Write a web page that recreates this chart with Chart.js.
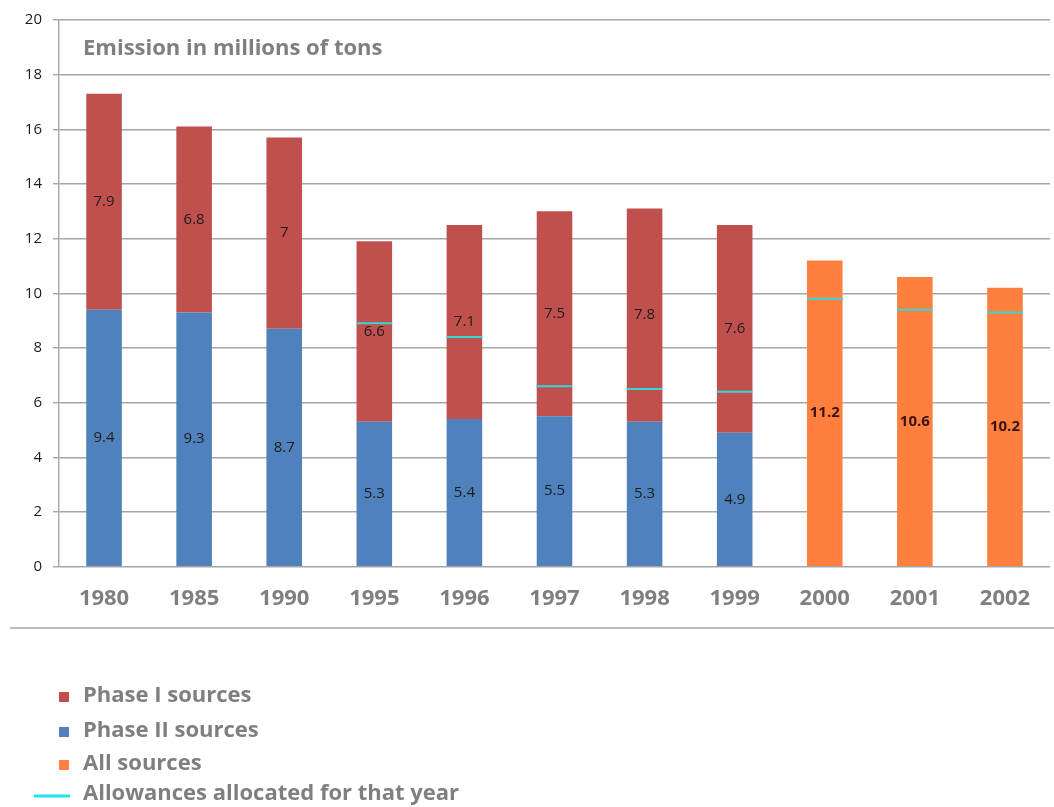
<!DOCTYPE html>
<html>
<head>
<meta charset="utf-8">
<script src="https://cdn.jsdelivr.net/npm/chart.js@4/dist/chart.umd.min.js"></script>
<style>
  html, body { margin: 0; padding: 0; background: #fff; overflow: hidden; }
  #wrap { width: 1054px; height: 807px; overflow: hidden; position: relative; }
  canvas { display: block; }
</style>
</head>
<body>
<div id="wrap"><canvas id="c" width="1070" height="807"></canvas></div>
<script>
// Emissions by year (millions of tons)
const years = ['1980', '1985', '1990', '1995', '1996', '1997', '1998', '1999', '2000', '2001', '2002'];
const phaseTwo = [9.4, 9.3, 8.7, 5.3, 5.4, 5.5, 5.3, 4.9, null, null, null];
const phaseOne = [7.9, 6.8, 7, 6.6, 7.1, 7.5, 7.8, 7.6, null, null, null];
const allSources = [null, null, null, null, null, null, null, null, 11.2, 10.6, 10.2];
const allowances = [null, null, null, 8.9, 8.4, 6.6, 6.5, 6.4, 9.8, 9.4, 9.3];
const yTicks = [0, 2, 4, 6, 8, 10, 12, 14, 16, 18, 20];

const titleText = 'Emission in millions of tons';
const legendItems = [
  { label: 'Phase I sources', color: '#C0504D', kind: 'box' },
  { label: 'Phase II sources', color: '#4F81BD', kind: 'box' },
  { label: 'All sources', color: '#FF803E', kind: 'box' },
  { label: 'Allowances allocated for that year', color: '#1EE6F0', kind: 'line' }
];

const GRAY_TEXT = '#7f7f7f';
const GRID = '#a6a6a6';
const FONT = '"Open Sans", Lato, sans-serif';

// Value labels centred inside each bar segment
const segmentLabels = {
  id: 'segmentLabels',
  afterDatasetsDraw(chart) {
    const ctx = chart.ctx;
    ctx.save();
    ctx.textAlign = 'center';
    ctx.textBaseline = 'middle';
    chart.data.datasets.forEach((ds, di) => {
      if (ds.type === 'line') return;
      const meta = chart.getDatasetMeta(di);
      meta.data.forEach((bar, i) => {
        const v = ds.data[i];
        if (v === null || v === undefined) return;
        const { x, y, base } = bar.getProps(['x', 'y', 'base'], true);
        const bold = ds.boldLabels;
        ctx.font = (bold ? 'bold ' : '') + '15px ' + FONT;
        ctx.fillStyle = bold ? '#3a1414' : '#1c1c1c';
        ctx.fillText(String(v), x, (y + base) / 2);
      });
    });
    ctx.restore();
  }
};

// Title inside the plot, separator rule and the legend block underneath
const decorations = {
  id: 'decorations',
  afterDraw(chart) {
    const ctx = chart.ctx;
    const area = chart.chartArea;
    const yScale = chart.scales.y;
    ctx.save();
    ctx.font = 'bold 22px ' + FONT;
    ctx.fillStyle = GRAY_TEXT;
    ctx.textAlign = 'left';
    ctx.textBaseline = 'middle';
    ctx.fillText(titleText, area.left + 24, yScale.getPixelForValue(19) + 1);

    // rule under the axis labels
    ctx.strokeStyle = GRID;
    ctx.lineWidth = 1.5;
    ctx.beginPath();
    ctx.moveTo(10, 628);
    ctx.lineTo(chart.width, 628);
    ctx.stroke();

    // legend
    const rows = [696, 731, 764, 794];
    legendItems.forEach((item, k) => {
      const cy = rows[k];
      if (item.kind === 'box') {
        ctx.fillStyle = item.color;
        ctx.fillRect(59, cy - 4, 10, 10);
      } else {
        ctx.strokeStyle = item.color;
        ctx.lineWidth = 3;
        ctx.beginPath();
        ctx.moveTo(34, cy + 2);
        ctx.lineTo(70, cy + 2);
        ctx.stroke();
      }
      ctx.fillStyle = GRAY_TEXT;
      ctx.font = 'bold 22px ' + FONT;
      ctx.fillText(item.label, 83, cy);
    });
    ctx.restore();
  }
};

function build() {
  new Chart(document.getElementById('c'), {
    data: {
      labels: years,
      datasets: [
        { type: 'bar', label: 'Phase II sources', data: phaseTwo, backgroundColor: '#4F81BD', stack: 'em' },
        { type: 'bar', label: 'Phase I sources', data: phaseOne, backgroundColor: '#C0504D', stack: 'em' },
        { type: 'bar', label: 'All sources', data: allSources, backgroundColor: '#FF803E', stack: 'em', boldLabels: true },
        {
          type: 'line', label: 'Allowances allocated for that year', data: allowances, stack: 'allow', order: -1,
          showLine: false, pointStyle: 'line', pointRadius: 18, pointHoverRadius: 18,
          borderColor: '#33D9D9', borderWidth: 2, backgroundColor: '#33D9D9'
        }
      ]
    },
    options: {
      responsive: false,
      animation: false,
      devicePixelRatio: 1,
      events: [],
      layout: { padding: { top: 4, right: 0, bottom: 176, left: 0 } },
      datasets: { bar: { categoryPercentage: 1, barPercentage: 0.395, borderWidth: 0 } },
      plugins: { legend: { display: false }, tooltip: { enabled: false }, title: { display: false } },
      scales: {
        x: {
          stacked: true,
          grid: { display: false, drawTicks: false },
          border: { display: false },
          ticks: { color: GRAY_TEXT, font: { family: FONT, size: 22, weight: 'bold' }, padding: 19, maxRotation: 0 }
        },
        y: {
          stacked: true,
          min: 0, max: 20,
          afterBuildTicks(scale) { scale.ticks = yTicks.map(v => ({ value: v })); },
          afterFit(scale) { scale.width = 59; },
          grid: { color: GRID, lineWidth: 1.4, tickLength: 6, drawTicks: true },
          border: { color: GRID, width: 1.4 },
          ticks: { color: '#1c1c1c', font: { family: FONT, size: 15 }, padding: 11 }
        }
      }
    },
    plugins: [segmentLabels, decorations]
  });
}

if (document.fonts && document.fonts.load) {
  Promise.all([document.fonts.load('bold 22px "Open Sans"'), document.fonts.load('15px "Open Sans"')]).then(build, build);
} else {
  build();
}
</script>
</body>
</html>
